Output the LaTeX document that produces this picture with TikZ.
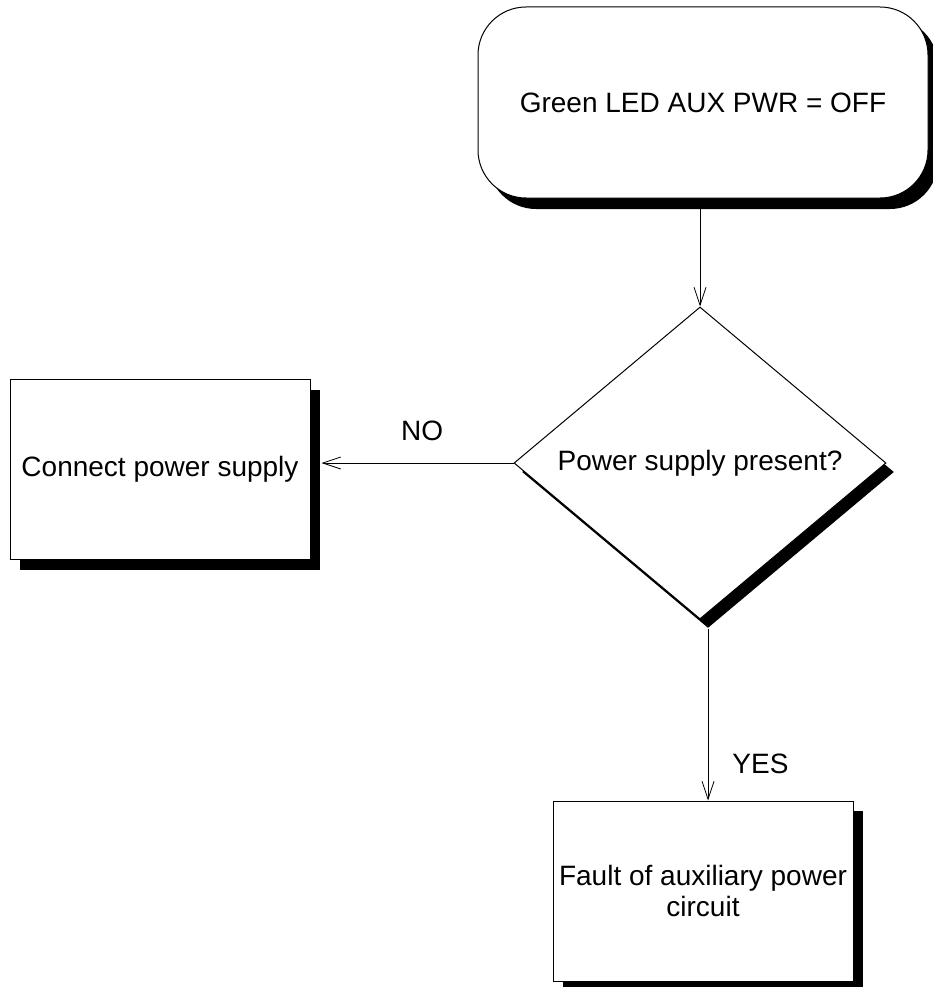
\documentclass[tikz,border=0pt]{standalone}
\usepackage{fontspec}
\setmainfont{Liberation Sans}
\usetikzlibrary{shapes.geometric,shadows,arrows.meta}

\begin{document}
\begin{tikzpicture}[x=1pt, y=-1pt,
    every node/.style={font=\fontsize{28}{31}\selectfont},
    stin/.style={drop shadow={shadow xshift=10pt, shadow yshift=-10pt, opacity=1, fill=black}},
    blok/.style={rectangle, draw, line width=1pt, fill=white, inner sep=0pt,
        minimum width=300pt, minimum height=180pt, align=center, stin},
    tok/.style={-{Straight Barb[length=18pt, width=12pt]}, line width=0.8pt},
    popis/.style={inner sep=0pt}]
    \useasboundingbox (0,0) rectangle (933,987);

    % Start
    \node[draw, line width=1pt, fill=white, rounded corners=48pt, inner sep=0pt,
        minimum width=450pt, minimum height=191pt,
        drop shadow={shadow xshift=10pt, shadow yshift=-11pt, opacity=1, fill=black}]
        (led) at (703,102.5) {Green LED AUX PWR = OFF};

    % Rozhodnutí
    \node[diamond, draw, line width=1pt, fill=white, inner sep=0pt,
        minimum width=372pt, minimum height=312pt,
        drop shadow={shadow xshift=8pt, shadow yshift=-9pt, opacity=1, fill=black}]
        (supply) at (700,463) {Power supply present?};

    % Výsledky
    \node[blok] (connect) at (160,469.5) {Connect power supply};
    \node[blok] (fault) at (703,891) {Fault of auxiliary power\\circuit};

    % Šipky
    \draw[tok] (led.south -| supply.north) -- (supply.north);
    \draw[tok, shorten >=11pt] (supply.west) -- (supply.west -| connect.east)
        node[popis, pos=0.45, above=22pt] {NO};
    \coordinate (dole) at ([xshift=8pt, yshift=-9pt]supply.south);
    \draw[tok] (dole) -- (dole |- fault.north)
        node[popis, pos=0.785, right=24pt] {YES};
\end{tikzpicture}
\end{document}
